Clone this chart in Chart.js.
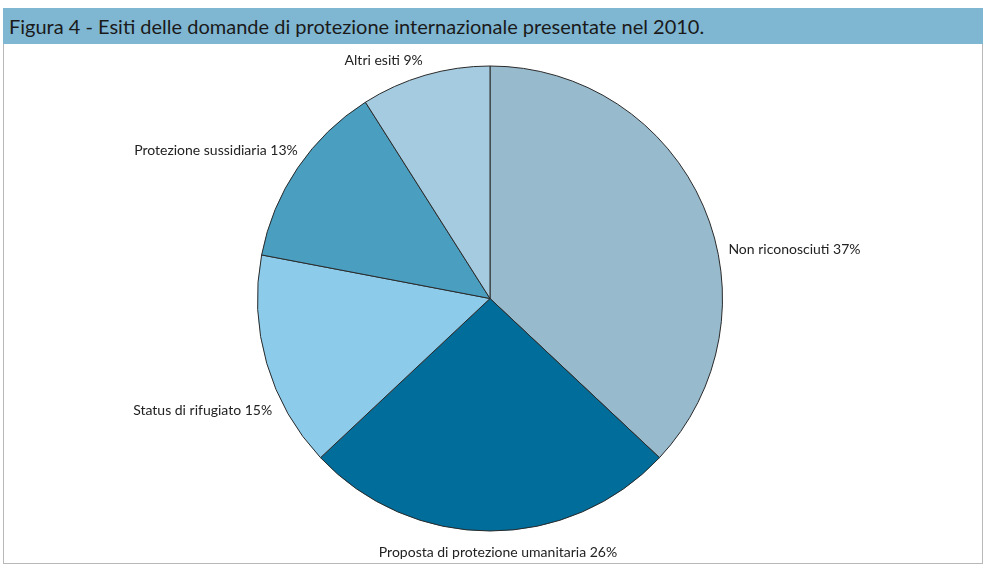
<!DOCTYPE html>
<html>
<head>
<meta charset="utf-8">
<script src="https://cdn.jsdelivr.net/npm/chart.js@4"></script>
<style>
  html, body { margin: 0; padding: 0; background: #fff; }
  body { width: 987px; height: 569px; position: relative; overflow: hidden; font-family: Lato, "Open Sans", sans-serif; }
  #frame { position: absolute; left: 3px; top: 44px; width: 978px; height: 519px; border: 1px solid #b8b8b8; border-top: none; }
  #title { position: absolute; left: 3px; top: 8px; width: 980px; height: 36px; background: #7fb6d2; color: #1a1a1a;
           font-size: 20px; line-height: 36px; padding-left: 6px; box-sizing: border-box; white-space: nowrap; }
  #wrap { position: absolute; left: 0; top: 0; width: 987px; height: 569px; }
</style>
</head>
<body>
<div id="title">Figura 4 - Esiti delle domande di protezione internazionale presentate nel 2010.</div>
<div id="frame"></div>
<div id="wrap"><canvas id="torta" width="987" height="569"></canvas></div>
<script>
const categorie = ["Non riconosciuti", "Proposta di protezione umanitaria", "Status di rifugiato", "Protezione sussidiaria", "Altri esiti"];
const percentuali = [37, 26, 15, 13, 9];
const colori = ["#97bacd", "#006d9a", "#8ccbea", "#4a9ec0", "#a4cbe0"];

// spostamenti delle etichette, come nel grafico originale
const spostamenti = [[14, 48], [8, 9], [17, 44], [10, -11], [1, -3]];

const etichettePlugin = {
  id: "etichette",
  afterDatasetsDraw(chart) {
    const ctx = chart.ctx;
    const meta = chart.getDatasetMeta(0);
    ctx.save();
    ctx.font = "14px Lato, 'Open Sans', sans-serif";
    ctx.fillStyle = "#222";
    ctx.textBaseline = "middle";
    meta.data.forEach((arc, i) => {
      const p = arc.getProps(["x", "y", "startAngle", "endAngle", "outerRadius"], true);
      const mid = (p.startAngle + p.endAngle) / 2;
      const r = p.outerRadius + 12;
      const cx = Math.cos(mid), sy = Math.sin(mid);
      let x = p.x + r * cx + spostamenti[i][0];
      let y = p.y + r * sy + spostamenti[i][1];
      if (Math.abs(cx) < 0.2) ctx.textAlign = "center";
      else ctx.textAlign = cx > 0 ? "left" : "right";
      ctx.fillText(categorie[i] + " " + percentuali[i] + "%", x, y);
    });
    ctx.restore();
  }
};

new Chart(document.getElementById("torta"), {
  type: "pie",
  data: {
    labels: categorie,
    datasets: [{
      data: percentuali,
      backgroundColor: colori,
      borderColor: "#2a2a2a",
      borderWidth: 1
    }]
  },
  options: {
    responsive: false,
    animation: false,
    devicePixelRatio: 1,
    layout: { padding: { top: 65, bottom: 37, left: 257, right: 264 } },
    plugins: {
      legend: { display: false },
      tooltip: { enabled: false }
    }
  },
  plugins: [etichettePlugin]
});
</script>
</body>
</html>
